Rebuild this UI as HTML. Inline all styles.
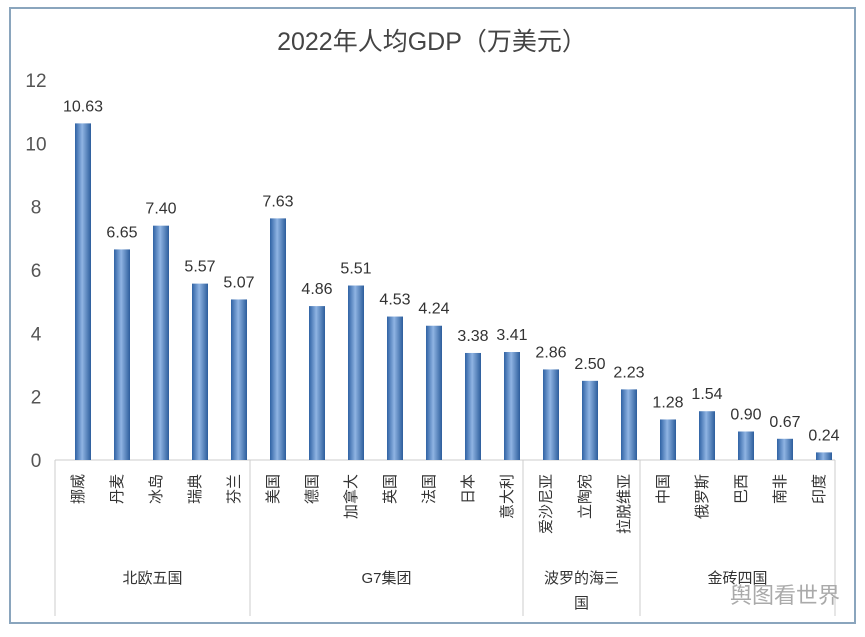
<!DOCTYPE html>
<html><head><meta charset="utf-8"><style>
body{margin:0;background:#fff;}
svg text{font-family:"Liberation Sans","Noto Sans CJK SC",sans-serif;}
</style></head><body>
<svg id="chart" width="865" height="632" viewBox="0 0 865 632" xmlns="http://www.w3.org/2000/svg">
<defs>
<linearGradient id="bg" x1="0" x2="1" y1="0" y2="0">
<stop offset="0" stop-color="#2f62a4"/><stop offset="0.45" stop-color="#8fb4e3"/><stop offset="1" stop-color="#2c5d9c"/>
</linearGradient>
</defs>
<rect x="10" y="8" width="845" height="615" fill="#fff" stroke="#8aa5bd" stroke-width="2"/>
<text x="432" y="50" text-anchor="middle" font-size="25" fill="#444">2022年人均GDP（万美元）</text>
<g id="axes"></g>
<g id="bars"></g>
<text x="840" y="603" text-anchor="end" font-size="22" fill="#aaa">舆图看世界</text>
</svg>
<script>
const categories=["挪威","丹麦","冰岛","瑞典","芬兰","美国","德国","加拿大","英国","法国","日本","意大利","爱沙尼亚","立陶宛","拉脱维亚","中国","俄罗斯","巴西","南非","印度"];
const values=[10.63,6.65,7.40,5.57,5.07,7.63,4.86,5.51,4.53,4.24,3.38,3.41,2.86,2.50,2.23,1.28,1.54,0.90,0.67,0.24];
const valueLabels=["10.63","6.65","7.40","5.57","5.07","7.63","4.86","5.51","4.53","4.24","3.38","3.41","2.86","2.50","2.23","1.28","1.54","0.90","0.67","0.24"];
const yTicks=[0,2,4,6,8,10,12];
const groups=["北欧五国","G7集团","波罗的海三国","金砖四国"];
const groupSizes=[5,7,3,5];

const NS="http://www.w3.org/2000/svg";
const x0=55,x1=835,y0=460,y1=80,yMax=12;
const bw=(x1-x0)/categories.length;
const yS=v=>y0-(v/yMax)*(y0-y1);
const xC=i=>x0+bw*(i+0.5)+8.5;
function mk(tag,attrs,parent,txt){const e=document.createElementNS(NS,tag);for(const k in attrs)e.setAttribute(k,attrs[k]);if(txt!==undefined)e.textContent=txt;parent.appendChild(e);return e;}
const ax=document.getElementById('axes'),bg=document.getElementById('bars');
yTicks.forEach(t=>{
  const e=mk('text',{x:36,y:yS(t)+7,'text-anchor':'middle','font-size':19,fill:'#555'},ax,String(t));
  
  
});
const base=mk('line',{x1:x0,y1:y0,x2:x1,y2:y0,stroke:'#ccc'},ax);


let acc=0;
const bounds=[0];
groupSizes.forEach(s=>{acc+=s;bounds.push(acc);});
bounds.forEach(b=>{
  const l=mk('line',{x1:x0+b*bw,y1:y0,x2:x0+b*bw,y2:616,stroke:'#ccc'},ax);
  
  
});
groups.forEach((g,i)=>{
  const cx=x0+(bounds[i]+bounds[i+1])/2*bw;
  if(g==="波罗的海三国"){
    const t=mk('text',{x:cx,y:583,'text-anchor':'middle','font-size':15,fill:'#333'},ax,"波罗的海三");
    
    
    const t2=mk('text',{x:cx,y:608,'text-anchor':'middle','font-size':15,fill:'#333'},ax,"国");
    
    
  } else {
    const t=mk('text',{x:cx,y:583,'text-anchor':'middle','font-size':15,fill:'#333'},ax,g);
    
    
  }
});
categories.forEach((c,i)=>{
  const cx=xC(i),v=values[i];
  const r=mk('rect',{x:cx-8,y:yS(v),width:16,height:y0-yS(v),fill:'url(#bg)'},bg);
  
  
  const vl=mk('text',{x:cx,y:yS(v)-12,'text-anchor':'middle','font-size':16,fill:'#333'},bg,valueLabels[i]);
  
  
  const tl=mk('text',{x:0,y:0,'text-anchor':'end','font-size':15,fill:'#333',transform:`translate(${cx},474) rotate(-90)`},ax,c);
  
  
});
</script>
</body></html>
